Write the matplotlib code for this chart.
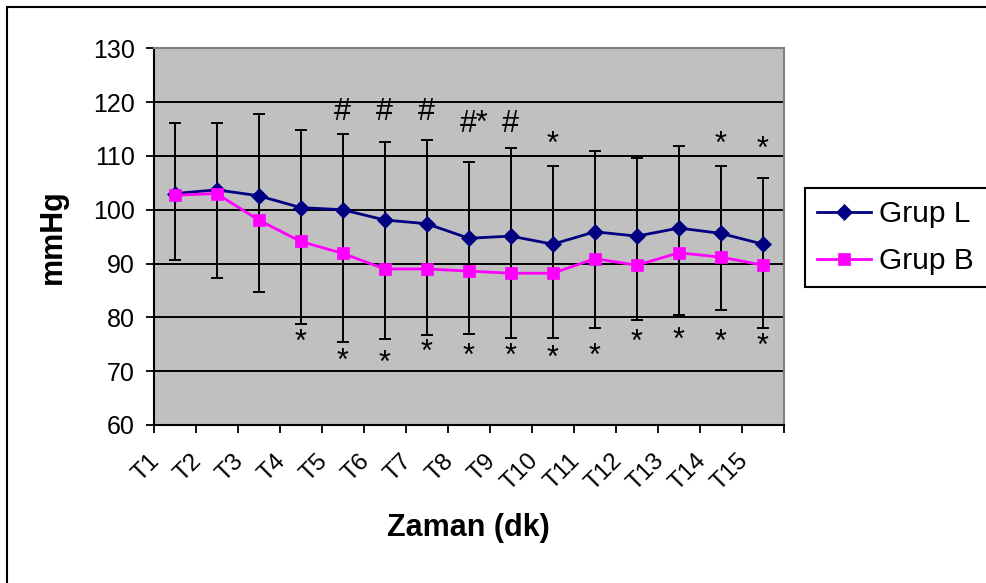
import matplotlib
matplotlib.use('Agg')
import matplotlib.pyplot as plt
import matplotlib.transforms as mtransforms
from matplotlib.patches import Rectangle
import numpy as np

plt.rcParams['font.family'] = ['Liberation Sans', 'DejaVu Sans']

# veriler
kategoriler = ['T1', 'T2', 'T3', 'T4', 'T5', 'T6', 'T7', 'T8', 'T9', 'T10',
               'T11', 'T12', 'T13', 'T14', 'T15']
grup_L = np.array([103.0, 103.7, 102.6, 100.4, 100.0, 98.1, 97.4, 94.7, 95.1, 93.6,
                   95.9, 95.1, 96.6, 95.6, 93.6])
grup_B = np.array([102.7, 103.0, 98.1, 94.1, 91.9, 89.0, 89.0, 88.6, 88.2, 88.2,
                   90.9, 89.7, 92.0, 91.2, 89.7])
sd_L = np.array([13.2, 12.5, 15.1, 14.4, 14.0, 14.4, 15.6, 14.1, 16.4, 14.5,
                 15.1, 14.5, 15.2, 12.5, 12.3])   # Grup L ust hata cubugu
sd_B = np.array([12.0, 15.6, 13.4, 15.3, 16.4, 13.1, 12.3, 11.6, 12.0, 12.0,
                 12.8, 10.1, 11.6, 9.8, 11.6])    # Grup B alt hata cubugu

# anlamlilik isaretleri: (kategori no, isaret, y)
ust_isaretler = [(5, '#', 118.1), (6, '#', 118.1), (7, '#', 118.1), (8, '#*', 115.9),
                 (9, '#', 115.9), (10, '*', 112.0), (14, '*', 112.0), (15, '*', 111.2)]
alt_isaretler = [(4, '*', 75.3), (5, '*', 71.8), (6, '*', 71.4), (7, '*', 73.4),
                 (8, '*', 72.6), (9, '*', 72.6), (10, '*', 72.2), (11, '*', 72.7),
                 (12, '*', 75.2), (13, '*', 75.7), (14, '*', 75.3), (15, '*', 74.5)]

W, H = 986, 583
fig = plt.figure(figsize=(W / 100, H / 100), dpi=100)
ax = fig.add_axes([153.5 / W, 1 - 425 / H, (784 - 153.5) / W, (425 - 48.3) / H])
ax.set_facecolor('#C0C0C0')

x = np.arange(1, len(kategoriler) + 1)
alt_uc = grup_B - sd_B
ust_uc = grup_L + sd_L
ax.errorbar(x, grup_L, yerr=[grup_L - alt_uc, ust_uc - grup_L], fmt='none',
            ecolor='black', elinewidth=1.4, capsize=4.3, capthick=1.4, zorder=2)
hL, = ax.plot(x, grup_L, color='#000080', marker='D', ms=7.8, mew=0.5, lw=2.0,
              label='Grup L', zorder=3)
hB, = ax.plot(x, grup_B, color='#FF00FF', marker='s', ms=8.2, mew=0.5, lw=2.0,
              label='Grup B', zorder=3)

for k, s, yv in ust_isaretler + alt_isaretler:
    if len(s) > 1:
        ax.text(k - 0.2, yv, s, ha='left', va='center', fontsize=22)
    else:
        ax.text(k, yv, s, ha='center', va='center', fontsize=22)

ax.set_xlim(0.5, len(kategoriler) + 0.5)
ax.set_ylim(60, 130)
ax.set_yticks(np.arange(60, 131, 10))
ax.yaxis.grid(True, color='black', lw=1.4)
ax.set_axisbelow(True)

ax.set_xticks(np.arange(0.5, len(kategoriler) + 1, 1))
ax.set_xticklabels([])
ax.set_xticks(x, minor=True)
ax.set_xticklabels(kategoriler, minor=True)
ax.tick_params(axis='both', which='major', direction='out', length=5.8, width=1.3,
               colors='black', labelsize=18, pad=7.5)
ax.tick_params(axis='x', which='minor', length=0, pad=26.5, labelsize=17.5)

ofs = mtransforms.ScaledTranslation(-14 / 100, 0, fig.dpi_scale_trans)
for lab in ax.get_xticklabels(minor=True):
    lab.set_rotation(45)
    lab.set_rotation_mode('anchor')
    lab.set_ha('right')
    lab.set_va('baseline')
    lab.set_transform(lab.get_transform() + ofs)

for side in ['left', 'bottom']:
    ax.spines[side].set_color('black')
    ax.spines[side].set_linewidth(1.5)
for side in ['top', 'right']:
    ax.spines[side].set_color('#808080')
    ax.spines[side].set_linewidth(1.5)

ax.set_xlabel('Zaman (dk)', fontsize=22, fontweight='bold')
ax.xaxis.set_label_coords(0.5, -0.2336)
ax.set_ylabel('mmHg', fontsize=22, fontweight='bold')
ax.yaxis.set_label_coords(-0.136, 0.5)

leg = fig.legend(handles=[hL, hB], loc='upper left',
                 bbox_to_anchor=(805 / W, 1 - 188.5 / H, 0.25, 0), mode='expand',
                 borderaxespad=0, fontsize=21.5, fancybox=False, edgecolor='black',
                 framealpha=1, borderpad=0.4, labelspacing=0.62, handlelength=1.8,
                 handletextpad=0.27)
leg.get_frame().set_linewidth(1.5)

# dis cerceve
fig.patches.append(Rectangle((7.3 / W, -0.1), 1.2, 1 - 6.7 / H + 0.1,
                             transform=fig.transFigure, fill=False,
                             edgecolor='black', lw=1.5))

fig.savefig('out.png', dpi=100)
